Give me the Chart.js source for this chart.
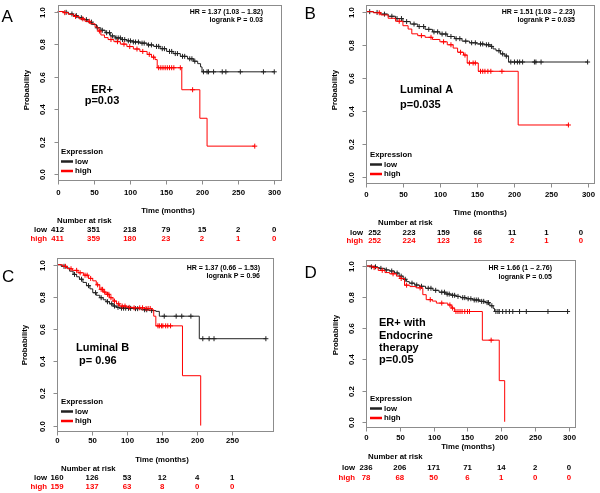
<!DOCTYPE html>
<html>
<head>
<meta charset="utf-8">
<title>Kaplan-Meier panels</title>
<script src="https://cdn.jsdelivr.net/npm/chart.js@4.4.1/dist/chart.umd.min.js"></script>
<style>
  body { margin: 0; background: #fff; }
  #wrap { position: relative; width: 600px; height: 493px; overflow: hidden; }
  #wrap canvas { position: absolute; }
</style>
</head>
<body>
<div id="wrap">
  <canvas id="chartA" width="300" height="245" style="left:0;top:0"></canvas>
  <canvas id="chartB" width="300" height="245" style="left:300px;top:0"></canvas>
  <canvas id="chartC" width="300" height="248" style="left:0;top:245px"></canvas>
  <canvas id="chartD" width="300" height="248" style="left:300px;top:245px"></canvas>
</div>
<script>
// shared axis ticks
const timeTicks = [0, 50, 100, 150, 200, 250, 300]
const timeTicksC = [0, 50, 100, 150, 200, 250]
const probTicks = [0, 0.2, 0.4, 0.6, 0.8, 1.0]
const probLabels = ["0.0", "0.2", "0.4", "0.6", "0.8", "1.0"]

// A - ER+
const aLowTime = [0, 8, 15, 22, 28, 35, 42, 48, 54, 60, 66, 73, 80, 88, 96, 104, 114, 124, 133, 142, 151, 160, 170, 180, 188, 194, 198, 200, 300]
const aLowSurv = [1, 0.995, 0.985, 0.975, 0.962, 0.95, 0.935, 0.92, 0.9, 0.885, 0.87, 0.85, 0.838, 0.828, 0.82, 0.813, 0.806, 0.795, 0.786, 0.772, 0.755, 0.742, 0.725, 0.71, 0.695, 0.68, 0.66, 0.63, 0.63]
const aHighTime = [0, 8, 15, 22, 30, 38, 45, 52, 56, 60, 65, 70, 78, 87, 96, 105, 114, 124, 130, 135, 138, 172, 197, 207, 273]
const aHighSurv = [1, 0.993, 0.983, 0.97, 0.955, 0.94, 0.925, 0.905, 0.88, 0.856, 0.84, 0.828, 0.815, 0.8, 0.785, 0.77, 0.755, 0.737, 0.72, 0.705, 0.655, 0.52, 0.345, 0.174, 0.174]
const aLowCensor = [12, 20, 26, 33, 40, 47, 55, 62, 68, 72, 76, 81, 84, 87, 90, 93, 98, 101, 105, 108, 112, 117, 120, 126, 130, 137, 140, 145, 148, 155, 158, 163, 166, 173, 176, 183, 186, 190, 202, 207, 209, 216, 228, 233, 253, 285, 300]
const aHighCensor = [10, 25, 35, 44, 58, 74, 83, 92, 100, 110, 118, 127, 133, 140, 143, 146, 149, 152, 155, 158, 161, 170, 187, 273]
const aRiskLow = [412, 351, 218, 79, 15, 2, 0]
const aRiskHigh = [411, 359, 180, 23, 2, 1, 0]

// B - Luminal A
const bLowTime = [0, 10, 20, 30, 40, 50, 60, 70, 80, 90, 100, 110, 120, 130, 140, 150, 160, 168, 172, 176, 182, 188, 193, 300]
const bLowSurv = [1, 0.995, 0.985, 0.972, 0.958, 0.94, 0.925, 0.91, 0.893, 0.878, 0.865, 0.85, 0.837, 0.822, 0.812, 0.805, 0.8, 0.79, 0.775, 0.764, 0.745, 0.732, 0.696, 0.696]
const bHighTime = [0, 10, 20, 30, 40, 50, 57, 62, 70, 80, 90, 100, 110, 118, 124, 132, 137, 152, 206, 274]
const bHighSurv = [1, 0.993, 0.98, 0.96, 0.942, 0.915, 0.895, 0.866, 0.855, 0.845, 0.832, 0.818, 0.8, 0.78, 0.755, 0.738, 0.69, 0.64, 0.316, 0.316]
const bLowCensor = [5, 15, 25, 35, 42, 48, 55, 65, 72, 78, 85, 92, 97, 103, 108, 115, 122, 127, 135, 143, 148, 155, 158, 163, 166, 170, 180, 185, 190, 196, 201, 205, 208, 212, 228, 230, 237, 300]
const bHighCensor = [18, 45, 75, 88, 105, 115, 128, 134, 140, 145, 148, 155, 158, 161, 165, 169, 184, 274]
const bRiskLow = [252, 223, 159, 66, 11, 1, 0]
const bRiskHigh = [252, 224, 123, 16, 2, 1, 0]

// C - Luminal B
const cLowTime = [0, 6, 13, 18, 23, 28, 32, 37, 42, 47, 51, 56, 61, 66, 70, 75, 80, 85, 89, 100, 108, 120, 132, 141, 146, 203, 298]
const cLowSurv = [1, 0.99, 0.98, 0.96, 0.94, 0.925, 0.91, 0.89, 0.87, 0.85, 0.826, 0.81, 0.795, 0.782, 0.77, 0.757, 0.743, 0.735, 0.73, 0.729, 0.727, 0.72, 0.715, 0.71, 0.68, 0.54, 0.54]
const cHighTime = [0, 8, 15, 22, 30, 38, 45, 51, 56, 61, 66, 70, 75, 80, 85, 89, 100, 110, 125, 136, 138, 141, 179, 205]
const cHighSurv = [1, 0.99, 0.975, 0.965, 0.95, 0.935, 0.915, 0.9, 0.875, 0.847, 0.83, 0.816, 0.795, 0.774, 0.757, 0.743, 0.735, 0.732, 0.728, 0.72, 0.68, 0.62, 0.31, 0]
const cLowCensor = [10, 25, 35, 45, 55, 63, 72, 78, 82, 87, 92, 95, 98, 102, 105, 112, 115, 125, 128, 135, 153, 170, 178, 191, 208, 217, 224, 298]
const cHighCensor = [12, 20, 28, 33, 40, 43, 48, 58, 63, 65, 68, 72, 74, 77, 82, 88, 93, 97, 103, 110, 118, 122, 127, 130, 133, 144, 146, 149, 151, 155, 158, 162]
const cRiskLow = [160, 126, 53, 12, 4, 1]
const cRiskHigh = [159, 137, 63, 8, 0, 0]

// D - ER+ with endocrine therapy
const dLowTime = [0, 8, 15, 20, 28, 35, 42, 49, 55, 60, 64, 72, 79, 88, 99, 108, 118, 126, 133, 140, 148, 158, 168, 176, 183, 188, 190, 300]
const dLowSurv = [1, 0.995, 0.99, 0.985, 0.975, 0.968, 0.955, 0.935, 0.915, 0.9, 0.89, 0.878, 0.87, 0.857, 0.844, 0.832, 0.82, 0.812, 0.805, 0.797, 0.79, 0.782, 0.773, 0.765, 0.745, 0.728, 0.708, 0.708]
const dHighTime = [0, 10, 18, 28, 35, 45, 50, 57, 65, 74, 84, 89, 98, 104, 121, 126, 131, 172, 197, 205]
const dHighSurv = [1, 0.99, 0.972, 0.958, 0.95, 0.935, 0.92, 0.877, 0.868, 0.86, 0.816, 0.784, 0.775, 0.762, 0.75, 0.73, 0.708, 0.524, 0.264, 0]
const dLowCensor = [8, 14, 22, 30, 38, 46, 52, 58, 68, 75, 82, 92, 96, 103, 112, 116, 120, 123, 128, 131, 136, 143, 146, 151, 155, 160, 163, 166, 171, 174, 179, 181, 186, 192, 195, 197, 202, 207, 212, 217, 227, 237, 269, 298]
const dHighCensor = [12, 24, 40, 52, 60, 80, 95, 112, 124, 128, 133, 136, 139, 142, 146, 150, 153, 185]
const dRiskLow = [236, 206, 171, 71, 14, 2, 0]
const dRiskHigh = [78, 68, 50, 6, 1, 0, 0]

const RED = "#ff0000"
const FONT = '"Liberation Sans", Arial, sans-serif'

// survival value in effect at time t (step function lookup)
function survAt(times, surv, t) {
  let s = surv[0]
  for (let i = 0; i < times.length; i++) {
    if (times[i] <= t) s = surv[i]
    else break
  }
  return s
}

function stepPoints(times, surv) {
  return times.map((t, i) => ({ x: t, y: surv[i] }))
}

function censorPoints(cens, times, surv) {
  return cens.map((t) => ({ x: t, y: survAt(times, surv, t) }))
}

// axes, labels, legend and risk table drawn off the chart scales
function decor(p) {
  return {
    id: "kmDecor",
    afterDraw(chart) {
      const { ctx, chartArea: a, scales } = chart
      const xs = scales.x
      const ys = scales.y
      ctx.save()

      // frame
      ctx.strokeStyle = "#8c8c8c"
      ctx.lineWidth = 1
      const l = Math.round(a.left) + 0.5
      const r = Math.round(a.right) - 0.5
      const t = Math.round(a.top) + 0.5
      const b = Math.round(a.bottom) - 0.5
      ctx.strokeRect(l, t, r - l, b - t)

      ctx.fillStyle = "#000"
      ctx.textBaseline = "middle"

      // x axis
      ctx.font = "bold 7.8px " + FONT
      ctx.textAlign = "center"
      p.ticks.forEach((v) => {
        const px = Math.round(xs.getPixelForValue(v)) + 0.5
        ctx.beginPath()
        ctx.moveTo(px, b)
        ctx.lineTo(px, b + 4)
        ctx.stroke()
        ctx.fillText(String(v), px, p.xLabelY)
      })

      // y axis (labels parallel to the axis)
      probTicks.forEach((v, i) => {
        const py = Math.round(ys.getPixelForValue(v)) + 0.5
        ctx.beginPath()
        ctx.moveTo(l - 4, py)
        ctx.lineTo(l, py)
        ctx.stroke()
        ctx.save()
        ctx.translate(p.yLabelX, py)
        ctx.rotate(-Math.PI / 2)
        ctx.fillText(probLabels[i], 0, 0)
        ctx.restore()
      })

      ctx.save()
      ctx.translate(p.yTitle[0], p.yTitle[1])
      ctx.rotate(-Math.PI / 2)
      ctx.fillText("Probability", 0, 0)
      ctx.restore()
      ctx.fillText("Time (months)", p.xTitle[0], p.xTitle[1])

      // HR / logrank
      ctx.font = "bold 7px " + FONT
      ctx.textAlign = "right"
      ctx.fillText(p.hr[0], p.hrPos[0], p.hrPos[1])
      ctx.fillText(p.hr[1], p.hrPos[0], p.hrPos[2])

      // subgroup note
      ctx.font = "bold 11px " + FONT
      ctx.textAlign = p.note.align
      p.note.lines.forEach((txt, i) => ctx.fillText(txt, p.note.x, p.note.y[i]))

      // legend
      const lg = p.legend
      ctx.font = "bold 7.8px " + FONT
      ctx.textAlign = "left"
      ctx.fillText("Expression", lg[0], lg[1])
      ;[["low", "#222"], ["high", RED]].forEach(([name, col], i) => {
        const ry = lg[1] + 9.5 * (i + 1)
        ctx.strokeStyle = col
        ctx.lineWidth = 2.5
        ctx.beginPath()
        ctx.moveTo(lg[0], ry)
        ctx.lineTo(lg[0] + 12, ry)
        ctx.stroke()
        ctx.fillStyle = "#000"
        ctx.fillText(name, lg[0] + 14, ry)
      })

      // number at risk table (columns follow the time ticks)
      const [shift, k] = p.riskMap || [0, 1]
      const colX = (v) => a.left + shift + k * (xs.getPixelForValue(v) - a.left)
      ctx.fillText("Number at risk", p.riskTitle[0], p.riskTitle[1])
      ;[[p.riskLow, "low", "#000"], [p.riskHigh, "high", RED]].forEach(([vals, name, col], i) => {
        const ry = p.riskRows[i]
        ctx.fillStyle = col
        ctx.textAlign = "right"
        ctx.fillText(name, p.riskLabelX, ry)
        ctx.textAlign = "center"
        vals.forEach((n, j) => ctx.fillText(String(n), colX(p.ticks[j]), ry))
      })

      // panel letter
      ctx.fillStyle = "#000"
      ctx.font = "17px " + FONT
      ctx.textAlign = "left"
      ctx.textBaseline = "alphabetic"
      ctx.fillText(p.letter, p.letterPos[0], p.letterPos[1])

      ctx.restore()
    },
  }
}

function drawPanel(id, s, p) {
  const canvas = document.getElementById(id)
  new Chart(canvas, {
    type: "scatter",
    data: {
      datasets: [
        { data: stepPoints(s.highTime, s.highSurv), showLine: true, stepped: "before", borderColor: RED, borderWidth: 1, pointRadius: 0 },
        { data: censorPoints(s.highCensor, s.highTime, s.highSurv), pointStyle: "cross", pointRadius: 2.5, borderColor: RED, borderWidth: 1 },
        { data: stepPoints(s.lowTime, s.lowSurv), showLine: true, stepped: "before", borderColor: "#222", borderWidth: 1, pointRadius: 0 },
        { data: censorPoints(s.lowCensor, s.lowTime, s.lowSurv), pointStyle: "cross", pointRadius: 2.5, borderColor: "#222", borderWidth: 1 },
      ],
    },
    options: {
      responsive: false,
      animation: false,
      devicePixelRatio: 1,
      layout: {
        padding: { left: p.box[0], top: p.box[1], right: canvas.width - p.box[2], bottom: canvas.height - p.box[3] },
      },
      plugins: { legend: { display: false }, tooltip: { enabled: false } },
      scales: {
        x: { type: "linear", display: false, min: 0, max: p.xMax },
        y: { type: "linear", display: false, min: -0.04, max: 1.04 },
      },
    },
    plugins: [decor(p)],
  })
}

drawPanel("chartA",
  { lowTime: aLowTime, lowSurv: aLowSurv, highTime: aHighTime, highSurv: aHighSurv, lowCensor: aLowCensor, highCensor: aHighCensor },
  {
    box: [57.5, 1, 281.5, 181], xMax: 310, ticks: timeTicks, riskLow: aRiskLow, riskHigh: aRiskHigh,
    letter: "A", letterPos: [1.5, 21.5],
    hr: ["HR = 1.37 (1.03 \u2013 1.82)", "logrank P = 0.03"], hrPos: [263, 12, 20],
    note: { lines: ["ER+", "p=0.03"], x: 102, y: [90, 101], align: "center" },
    legend: [61, 152], yTitle: [27, 90], yLabelX: 43, xLabelY: 193, xTitle: [168, 211],
    riskTitle: [57, 221], riskRows: [230, 239], riskLabelX: 47,
  })

drawPanel("chartB",
  { lowTime: bLowTime, lowSurv: bLowSurv, highTime: bHighTime, highSurv: bHighSurv, lowCensor: bLowCensor, highCensor: bHighCensor },
  {
    box: [66, 2.7, 296, 184], xMax: 310, ticks: timeTicks, riskLow: bRiskLow, riskHigh: bRiskHigh, riskMap: [8.7, 0.93],
    letter: "B", letterPos: [4.5, 18.5],
    hr: ["HR = 1.51 (1.03 \u2013 2.23)", "logrank P = 0.035"], hrPos: [275, 12, 20],
    note: { lines: ["Luminal A", "p=0.035"], x: 100, y: [90, 105], align: "left" },
    legend: [70, 155], yTitle: [35, 90], yLabelX: 52, xLabelY: 195, xTitle: [180, 213],
    riskTitle: [78, 223], riskRows: [233, 241], riskLabelX: 63,
  })

drawPanel("chartC",
  { lowTime: cLowTime, lowSurv: cLowSurv, highTime: cHighTime, highSurv: cHighSurv, lowCensor: cLowCensor, highCensor: cHighCensor },
  {
    box: [57, 13.3, 274.3, 187], xMax: 310, ticks: timeTicksC, riskLow: cRiskLow, riskHigh: cRiskHigh,
    letter: "C", letterPos: [2, 36.5],
    hr: ["HR = 1.37 (0.66 \u2013 1.53)", "logrank P = 0.96"], hrPos: [260, 23, 31],
    note: { lines: ["Luminal B", " p= 0.96"], x: 76, y: [103, 116], align: "left" },
    legend: [61, 157], yTitle: [25, 100], yLabelX: 43, xLabelY: 196, xTitle: [162, 215],
    riskTitle: [61, 224], riskRows: [233, 242], riskLabelX: 47,
  })

drawPanel("chartD",
  { lowTime: dLowTime, lowSurv: dLowSurv, highTime: dHighTime, highSurv: dHighSurv, lowCensor: dLowCensor, highCensor: dHighCensor },
  {
    box: [66, 14.8, 275.7, 183], xMax: 310, ticks: timeTicks, riskLow: dRiskLow, riskHigh: dRiskHigh,
    letter: "D", letterPos: [4.5, 33],
    hr: ["HR = 1.66 (1 \u2013 2.76)", "logrank P = 0.05"], hrPos: [252, 23, 32],
    note: { lines: ["ER+ with", "Endocrine", "therapy", "p=0.05"], x: 79, y: [78, 91, 103, 115], align: "left" },
    legend: [70, 154], yTitle: [36, 90], yLabelX: 52, xLabelY: 193, xTitle: [168, 202],
    riskTitle: [68, 212], riskRows: [223, 233], riskLabelX: 55,
  })
</script>
</body>
</html>
